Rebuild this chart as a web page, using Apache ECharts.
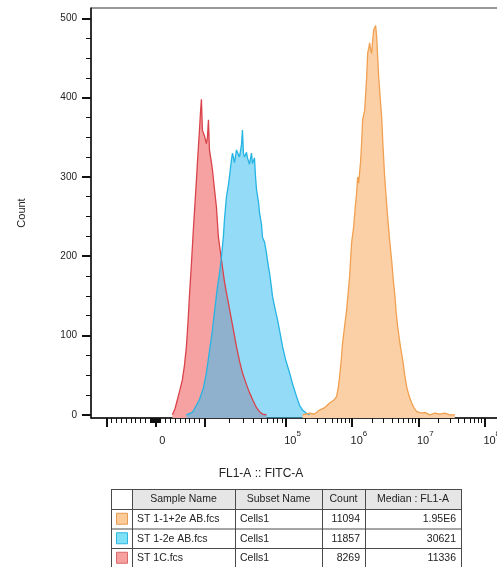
<!DOCTYPE html>
<html>
<head>
<meta charset="utf-8">
<script src="https://cdn.jsdelivr.net/npm/echarts@6/dist/echarts.min.js"></script>
<style>
  html, body { margin: 0; padding: 0; background: #ffffff; }
  #chart { width: 497px; height: 567px; }
</style>
</head>
<body>
<div id="chart"></div>
<script>
// Histogram bins: [position on the biexponential FL1-A display scale, event count]
// Display scale: 10^5 -> 5, 10^6 -> 6, 10^7 -> 7, 10^8 -> 8; zero sits near 3.04.
const histST1C = [
  [3.296,0],[3.336,8],[3.371,19],[3.411,32],[3.446,44],[3.477,62],[3.507,86],[3.532,118],
  [3.552,149],[3.577,183],[3.597,212],[3.612,234],[3.627,254],[3.643,276],[3.658,296],
  [3.673,318],[3.688,338],[3.703,358],[3.718,380],[3.733,398],[3.748,359],[3.778,352],
  [3.808,342],[3.824,350],[3.839,372],[3.854,334],[3.884,318],[3.899,309],[3.929,285],
  [3.959,262],[3.989,224],[4.020,205],[4.050,186],[4.080,168],[4.110,154],[4.150,136],
  [4.186,120],[4.226,102],[4.261,86],[4.306,68],[4.351,53],[4.404,40],[4.457,28],
  [4.510,18],[4.563,9],[4.608,4],[4.653,1],[4.713,0]
];
const histST12eAB = [
  [3.507,0],[3.597,3],[3.703,19],[3.763,34],[3.808,53],[3.854,80],[3.899,107],[3.944,140],
  [3.974,161],[4.005,178],[4.035,199],[4.065,226],[4.080,246],[4.110,275],[4.140,290],
  [4.155,300],[4.186,322],[4.201,330],[4.231,318],[4.261,334],[4.291,328],[4.306,325],
  [4.336,340],[4.351,359],[4.366,330],[4.382,325],[4.412,331],[4.427,324],[4.457,316],
  [4.487,330],[4.502,317],[4.532,324],[4.548,300],[4.563,284],[4.593,268],[4.608,255],
  [4.638,240],[4.653,224],[4.683,218],[4.713,204],[4.744,186],[4.759,179],[4.789,160],
  [4.804,149],[4.849,131],[4.879,120],[4.925,100],[4.955,86],[5.000,70],[5.060,53],
  [5.120,35],[5.166,23],[5.211,12],[5.256,6],[5.316,2],[5.362,0]
];
const histST112eAB = [
  [5.256,0],[5.362,2],[5.437,1],[5.513,6],[5.590,9],[5.664,15],[5.720,18],[5.769,23],
  [5.795,35],[5.814,48],[5.840,70],[5.860,91],[5.890,112],[5.920,132],[5.945,155],
  [5.965,174],[5.980,196],[5.995,217],[6.026,237],[6.050,262],[6.071,280],[6.086,300],
  [6.101,292],[6.116,292],[6.131,320],[6.146,343],[6.161,372],[6.176,378],[6.192,384],
  [6.207,405],[6.222,426],[6.237,456],[6.252,462],[6.267,469],[6.282,460],[6.297,456],
  [6.312,472],[6.327,485],[6.342,488],[6.357,491],[6.373,476],[6.388,450],[6.403,426],
  [6.425,400],[6.448,375],[6.470,335],[6.493,300],[6.515,275],[6.538,249],[6.568,220],
  [6.599,194],[6.620,172],[6.644,153],[6.665,130],[6.689,111],[6.727,88],[6.765,69],
  [6.795,50],[6.825,35],[6.860,24],[6.900,15],[6.940,8],[6.976,4],[7.050,2],[7.100,3],
  [7.172,0],[7.250,2],[7.323,1],[7.400,2],[7.474,0],[7.550,0]
];

// Axis ticks
const yMajorTicks = [0, 100, 200, 300, 400, 500];
const yMinorTicks = [25, 50, 75, 125, 150, 175, 225, 250, 275, 325, 350, 375, 425, 450, 475];
const xMajorTickValues = [-1e4, 0, 1e4, 1e5, 1e6, 1e7, 1e8];
const xLabelValues = [0, 1e5, 1e6, 1e7, 1e8];
const xLabelTexts = ['0', '10^5', '10^6', '10^7', '10^8'];

// Statistics table
const tableHeader = ['Sample Name', 'Subset Name', 'Count', 'Median : FL1-A'];
const sampleNames = ['ST 1-1+2e AB.fcs', 'ST 1-2e AB.fcs', 'ST 1C.fcs'];
const subsetNames = ['Cells1', 'Cells1', 'Cells1'];
const eventCounts = [11094, 11857, 8269];
const medianFL1A = ['1.95E6', '30621', '11336'];

const FONT = '"Liberation Sans", Arial, sans-serif';
const TEXT = '#222';

// Biexponential display: linear around zero, log beyond 10^4
const ZERO_POS = 3.039, LIN_SPAN = 0.739, LOW_DECADE = 1.222;
function axisPos(v) {
  const a = Math.abs(v), s = Math.sign(v);
  if (a <= 1e4) return ZERO_POS + s * (a / 1e4) * LIN_SPAN;
  if (a <= 1e5) return ZERO_POS + s * (LIN_SPAN + LOW_DECADE * Math.log10(a / 1e4));
  return ZERO_POS + s * (LIN_SPAN + LOW_DECADE + Math.log10(a / 1e5));
}

const X_MIN = 2.07, X_MAX = 8.23;
const Y_MIN = -4, Y_MAX = 513;

const xMinorValues = [];
for (let k = 1; k <= 9; k++) {
  xMinorValues.push(k * 100, -k * 100, k * 1000, -k * 1000);
}
for (let k = 2; k <= 9; k++) {
  xMinorValues.push(k * 1e4, k * 1e5, k * 1e6, k * 1e7);
}
const xMinorPos = xMinorValues.map(axisPos).filter(p => p > X_MIN && p < X_MAX);
const xMajorPos = xMajorTickValues.map(axisPos).filter(p => p > X_MIN && p < X_MAX);
const xLabelPos = xLabelValues.map(axisPos);

function xLabelFormatter(val) {
  let best = 0;
  xLabelPos.forEach((p, i) => { if (Math.abs(p - val) < Math.abs(xLabelPos[best] - val)) best = i; });
  const t = xLabelTexts[best];
  if (t.indexOf('^') > 0) {
    const parts = t.split('^');
    return '{b|' + parts[0] + '}{s|' + parts[1] + '}';
  }
  return '{b|' + t + '}';
}

const chart = echarts.init(document.getElementById('chart'), null, { renderer: 'canvas' });

// Statistics table drawn as graphic elements
const colX = [111, 132, 235, 322, 365, 461];
const rowY = [489, 509, 528.5, 548, 567.5];
const swatchFill = ['#fccb98', '#80e0f7', '#f6a0a0'];
const swatchStroke = ['#e39b55', '#2fb6df', '#d86a6a'];
const CELL_FONT = '10.5px ' + FONT;
const tableEls = [];
tableEls.push({ type: 'rect', shape: { x: colX[1], y: rowY[0], width: colX[5] - colX[1], height: rowY[1] - rowY[0] },
  style: { fill: '#e6e6e6' }, silent: true });
rowY.forEach(y => tableEls.push({ type: 'line', shape: { x1: colX[0], y1: y + 0.5, x2: colX[5], y2: y + 0.5 },
  style: { stroke: '#4a4a4a', lineWidth: 1 }, silent: true }));
colX.forEach(x => tableEls.push({ type: 'line', shape: { x1: x + 0.5, y1: rowY[0], x2: x + 0.5, y2: rowY[4] },
  style: { stroke: '#4a4a4a', lineWidth: 1 }, silent: true }));
tableHeader.forEach((h, i) => tableEls.push({ type: 'text', x: (colX[i + 1] + colX[i + 2]) / 2, y: (rowY[0] + rowY[1]) / 2 + 0.5,
  style: { text: h, fill: TEXT, font: CELL_FONT, align: 'center', verticalAlign: 'middle' }, silent: true }));
sampleNames.forEach((name, r) => {
  const cy = (rowY[r + 1] + rowY[r + 2]) / 2 + 0.5;
  tableEls.push({ type: 'rect', shape: { x: 116.5, y: cy - 6, width: 11, height: 11 },
    style: { fill: swatchFill[r], stroke: swatchStroke[r], lineWidth: 1 }, silent: true });
  tableEls.push({ type: 'text', x: colX[1] + 5, y: cy, style: { text: name, fill: TEXT, font: CELL_FONT, align: 'left', verticalAlign: 'middle' }, silent: true });
  tableEls.push({ type: 'text', x: colX[2] + 5, y: cy, style: { text: subsetNames[r], fill: TEXT, font: CELL_FONT, align: 'left', verticalAlign: 'middle' }, silent: true });
  tableEls.push({ type: 'text', x: colX[4] - 5, y: cy, style: { text: String(eventCounts[r]), fill: TEXT, font: CELL_FONT, align: 'right', verticalAlign: 'middle' }, silent: true });
  tableEls.push({ type: 'text', x: colX[5] - 5, y: cy, style: { text: medianFL1A[r], fill: TEXT, font: CELL_FONT, align: 'right', verticalAlign: 'middle' }, silent: true });
});
tableEls.push({ type: 'text', x: 261, y: 474, style: { text: 'FL1-A :: FITC-A', fill: TEXT, font: '12px ' + FONT, align: 'center', verticalAlign: 'middle' }, silent: true });

function histSeries(name, data, line, fill) {
  return {
    name: name, type: 'line', data: data, xAxisIndex: 0, yAxisIndex: 0,
    showSymbol: false, smooth: false, animation: false,
    lineStyle: { color: line, width: 1.3 },
    areaStyle: { color: fill, opacity: 1, origin: 'start' }
  };
}

chart.setOption({
  animation: false,
  backgroundColor: '#ffffff',
  grid: {
    left: 91, top: 8, right: -3, bottom: 149, outerBoundsMode: 'none', containLabel: false,
    show: true, borderColor: '#333', borderWidth: 1, backgroundColor: 'transparent'
  },
  xAxis: [
    {
      type: 'value', min: X_MIN, max: X_MAX, position: 'bottom',
      axisLine: { onZero: false, lineStyle: { color: '#111', width: 1.5 } },
      axisTick: { customValues: xMajorPos, length: 9, lineStyle: { color: '#111', width: 2 } },
      axisLabel: {
        customValues: xLabelPos, formatter: xLabelFormatter, margin: 12, padding: [0, 0, 0, 14],
        hideOverlap: false, showMaxLabel: true, showMinLabel: true,
        rich: {
          b: { fontSize: 11, fontFamily: FONT, color: TEXT, lineHeight: 16, verticalAlign: 'bottom' },
          s: { fontSize: 8, fontFamily: FONT, color: TEXT, lineHeight: 9, verticalAlign: 'top' }
        }
      },
      splitLine: { show: false }
    },
    {
      type: 'value', min: X_MIN, max: X_MAX, position: 'bottom',
      axisLine: { show: false, onZero: false },
      axisTick: { customValues: xMinorPos, length: 5, lineStyle: { color: '#111', width: 1 } },
      axisLabel: { show: false },
      splitLine: { show: false }
    }
  ],
  yAxis: [
    {
      type: 'value', min: Y_MIN, max: Y_MAX, position: 'left',
      name: 'Count', nameLocation: 'middle', nameGap: 64,
      nameTextStyle: { fontSize: 11, fontFamily: FONT, color: TEXT },
      axisLine: { show: true, onZero: false, lineStyle: { color: '#111', width: 1.5 } },
      axisTick: { show: true, customValues: yMajorTicks, length: 9, lineStyle: { color: '#111', width: 2 } },
      axisLabel: { customValues: yMajorTicks, margin: 14, fontSize: 10, fontFamily: FONT, color: TEXT },
      splitLine: { show: false }
    },
    {
      type: 'value', min: Y_MIN, max: Y_MAX, position: 'left',
      axisLine: { show: false, onZero: false },
      axisTick: { show: true, customValues: yMinorTicks, length: 5, lineStyle: { color: '#111', width: 1 } },
      axisLabel: { show: false },
      splitLine: { show: false }
    }
  ],
  series: [
    histSeries('ST 1C.fcs', histST1C, '#d9434a', '#f7a2a2'),
    histSeries('ST 1-2e AB.fcs', histST12eAB, '#25b4e3', 'rgba(60,190,240,0.55)'),
    histSeries('ST 1-1+2e AB.fcs', histST112eAB, '#f0a050', '#fcd0a6')
  ],
  graphic: { elements: tableEls }
});
</script>
</body>
</html>
